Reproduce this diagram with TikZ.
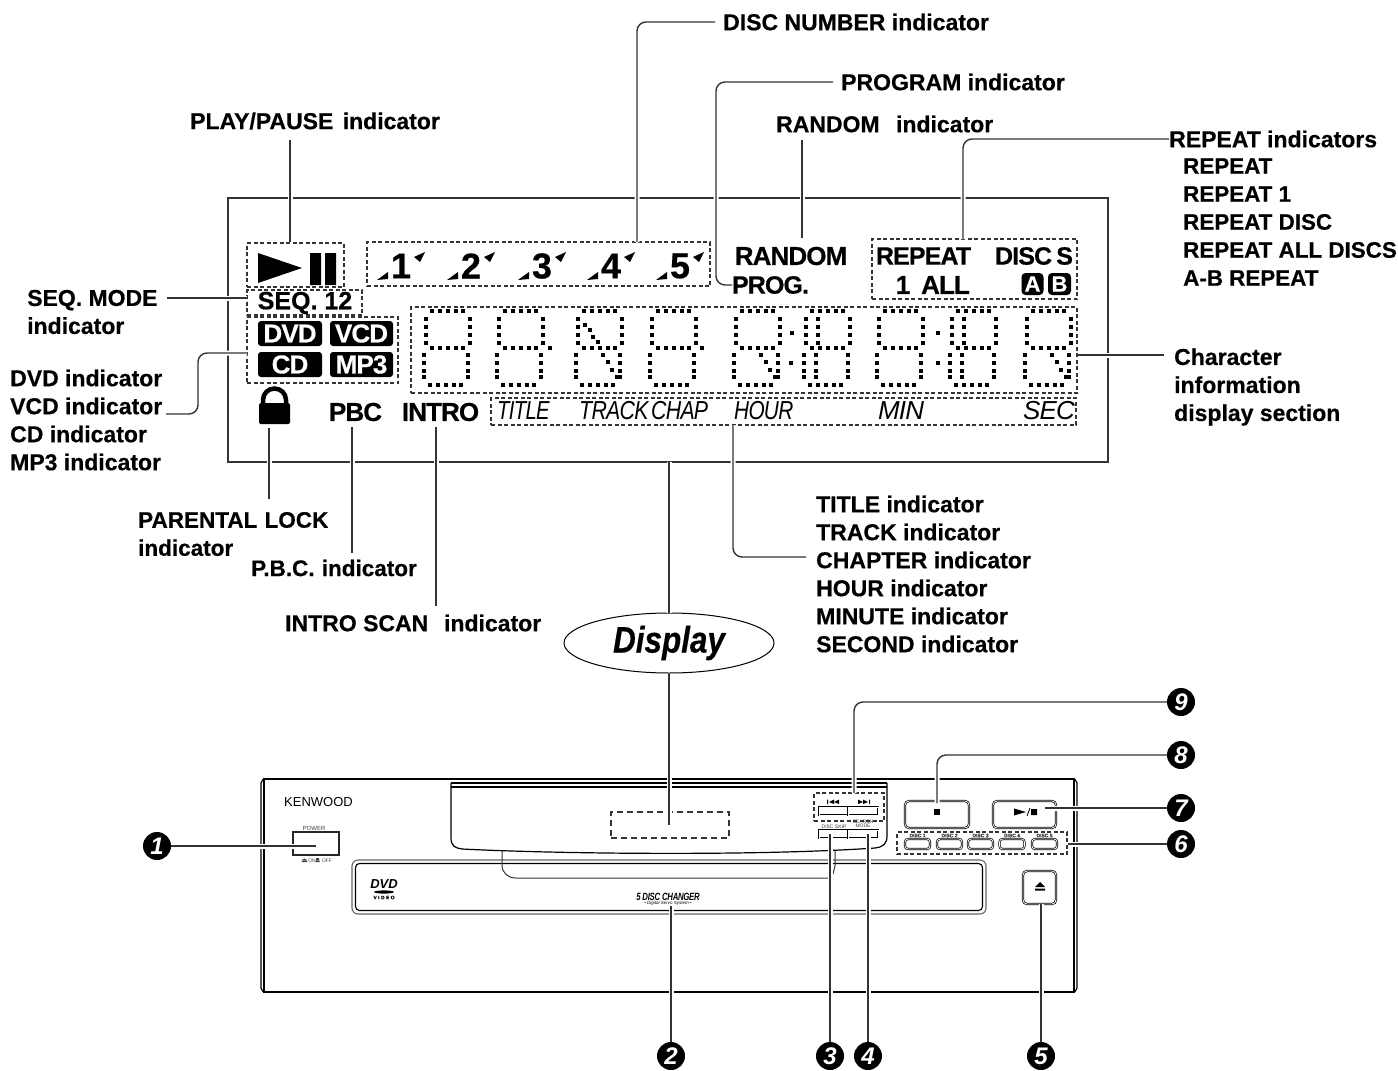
\documentclass[tikz,border=0pt]{standalone}
\usepackage{fontspec}
\setmainfont[BoldFeatures={FakeBold=0.5}]{Liberation Sans}
\newfontfamily\lcdfont[LetterSpace=-3.5,BoldFeatures={FakeBold=0.5}]{Liberation Sans}
\newfontfamily\dispfont[FakeStretch=0.85,BoldItalicFeatures={FakeBold=0.5}]{Liberation Sans}
\usetikzlibrary{shapes.geometric,fit}
\definecolor{inkgray}{gray}{0.2}
\newcommand\labfont{\fontsize{23}{28}\selectfont\bfseries}
\newcommand\lcdsize[1]{\fontsize{#1}{#1}\selectfont\lcdfont\bfseries}
\newcommand\tinysize[1]{\fontsize{#1}{#1}\selectfont}
% one square dot of the segment display
\newcommand\dotat[2]{\fill ({#1-1.7},{#2-1.7}) rectangle +(3.4,3.4);}
% all the outer segments of one character
\newcommand\dotchar[1]{%
  \foreach \dx in {0,8,16,24,31} {\dotat{#1+\dx}{311}\dotat{#1+\dx}{348}\dotat{#1+\dx-2}{385}}
  \foreach \dy in {8,16,24,32} {\dotat{#1-6}{311+\dy}\dotat{#1+38}{311+\dy}}
  \foreach \dy in {44,52,60,66} {\dotat{#1-8}{311+\dy}\dotat{#1+36}{311+\dy}}
}
\newcommand\dotdiagup[1]{\foreach \dx/\dy in {1/14,6/19,9/26,14/31} {\dotat{#1+\dx}{311+\dy}}}
\newcommand\dotdiaglow[1]{\foreach \dx/\dy in {19/44,24/51,28/59,33/66} {\dotat{#1+\dx}{311+\dy}}}
\newcommand\dotinner[1]{%
  \foreach \dy in {8,16,24,32} {\dotat{#1+6}{311+\dy}}
  \foreach \dy in {44,52,60,66} {\dotat{#1+4}{311+\dy}}
}
\begin{document}
\begin{tikzpicture}[x=1pt,y=-1pt,
  lab/.style={anchor=west, align=left, inner sep=0pt, font=\labfont},
  lcd/.style={inner sep=0pt, anchor=center, font=\lcdsize{26}},
  lcdit/.style={inner sep=0pt, anchor=west, font=\fontsize{26}{26}\selectfont\lcdfont\itshape},
  dashbox/.style={draw=inkgray, dashed, dash pattern=on 4pt off 2.5pt, line width=1.1pt, inner sep=0pt},
  leader/.style={draw=inkgray, line width=1.4pt, rounded corners=9pt,
    preaction={draw=white, line width=5pt}},
  chip/.style={fill=black, text=white, rounded corners=3pt, inner sep=0pt, font=\lcdsize{26}},
  keynum/.style={circle, fill=black, text=white, inner sep=0pt, minimum size=28pt,
    font=\fontsize{24}{24}\selectfont\bfseries\itshape},
  btn/.style={draw=black, double=white, double distance=0.8pt, line width=0.7pt, inner sep=0pt},
  bigbtn/.style={btn, rounded corners=4pt},
  mini/.style={inner sep=0pt, text=black!75},
]
\useasboundingbox (0,0) rectangle (1398,1071);

% ---- Display frame ----
\draw[inkgray, line width=1.4pt] (228,198) rectangle (1108,462);

% ---- Player front ----
\draw[line width=1.5pt] (264,779) rectangle (1074,992);
\draw[line width=1.2pt, rounded corners=2pt] (264,779) -- (261,781) -- (261,990) -- (264,992);
\draw[line width=1.2pt, rounded corners=2pt] (1074,779) -- (1077,781) -- (1077,990) -- (1074,992);
% upper panel
\draw[line width=1.5pt] (451,783) -- (887,783);
\draw[line width=1.2pt] (451,787) -- (887,787);
\draw[line width=1.2pt] (451,783) -- (451,838)
  .. controls (451,846) and (455,848) .. (462,849)
  .. controls (560,854) and (760,856) .. (875,848)
  .. controls (883,847) and (887,844) .. (887,836) -- (887,783);
% tray
\draw[draw=black!60, line width=1.1pt, rounded corners=6pt] (352,860) rectangle (986,914);
\draw[line width=1.1pt, rounded corners=4pt] (355.5,863.5) rectangle (982.5,910.5);
% tab under the panel
\draw[inkgray, line width=1pt] (502,851) -- (502,865)
  .. controls (502,873) and (508,878) .. (516,878) -- (828,878);
\draw[inkgray, line width=1pt] (835,851) -- (835,866) -- (833,874);

\node[inner sep=0pt, font=\tinysize{13}] (brand) at (318.5,802) {KENWOOD};
\node[mini, font=\tinysize{6}] (powertxt) at (314,828) {POWER};
\node[draw=black!85, line width=2pt, inner sep=0pt, fit={(293,832) (339,855)}] (powerbox) {};
\node[mini, font=\tinysize{5}] (ontxt) at (312,860.5) {ON};
\node[mini, font=\tinysize{5}] (offtxt) at (327,860.5) {OFF};
\fill[black!75] (302,860) -- (304.5,858.5) -- (307,860) -- cycle (301.8,860.6) rectangle (307.2,862);
\fill[black!75] (316,858) rectangle (319,860) (315.5,860.6) rectangle (319.5,862);
\node[inner sep=0pt, font=\fontsize{13}{13}\selectfont\bfseries\itshape] (dvdlogo) at (384,884) {DVD};
\fill (384,892) ellipse (10 and 1.6);
\node[inner sep=0pt, font=\tinysize{5}\bfseries] (dvdvideo) at (384,897.5) {V I D E O};
\node[inner sep=0pt, font=\fontsize{10.5}{10.5}\selectfont\lcdfont\bfseries\itshape] (changer) at (668,897) {\scalebox{0.74}[1]{5 DISC CHANGER}};
\node[inner sep=0pt, font=\tinysize{4.5}\itshape] (servo) at (668,903.5) {• Digital Servo System •};

% skip buttons
\node[btn, fit={(819,807) (848,815)}] (skipback) {};
\node[btn, fit={(848,807) (878,815)}] (skipnext) {};
\fill (827,799.5) rectangle (828,804) (829,802) -- (834,799.5) -- (834,804) -- cycle (834,802) -- (839,799.5) -- (839,804) -- cycle;
\fill (858,799.5) -- (863,802) -- (858,804) -- cycle (863,799.5) -- (868,802) -- (863,804) -- cycle (869,799.5) rectangle (870,804);
\node[btn, fit={(819,830) (848,838)}] (discskip) {};
\node[btn, fit={(848,830) (878,838)}] (searchmode) {};
\node[mini, font=\tinysize{5}] (skiptxt) at (834,826.5) {DISC SKIP};
\node[mini, align=center, font=\tinysize{5}] (modetxt) at (863,824) {SEARCH\\[-1pt]MODE};
% stop, play and eject
\node[bigbtn, fit={(905,801) (969,828)}] (stopbtn) {};
\fill (934,809) rectangle (940,815);
\node[bigbtn, fit={(993,801) (1056,828)}] (playbtn) {};
\fill (1014,808.5) -- (1026,812) -- (1014,815.5) -- cycle (1031,809) rectangle (1037,815);
\draw[line width=0.8pt] (1027,816) -- (1030,808);
\node[bigbtn, fit={(1023,871) (1056,904)}] (ejectbtn) {};
\fill (1035,887) -- (1040,882) -- (1045,887) -- cycle (1035,888.5) rectangle (1045,890.5);
% disc buttons
\foreach \n/\x in {1/917.5,2/949.5,3/980.5,4/1012,5/1044.5} {
  \node[btn, rounded corners=3pt, minimum width=25pt, minimum height=10pt] (disc\n) at (\x,844) {};
  \node[mini, font=\tinysize{5}\bfseries] (disctxt\n) at (\x,835.5) {DISC \n};
}

% ---- Labels ----
\node[lab] (dischead) at (723,22) {DISC NUMBER indicator};
\node[lab] (proghead) at (841,82) {PROGRAM indicator};
\node[lab] (randhead) at (776,124) {RANDOM\ \kern10pt indicator};
\node[lab] (playhead) at (190,121) {PLAY/PAUSE\ \kern3pt indicator};
\node[lab] (rephead) at (1169,139) {REPEAT indicators};
\node[lab, font=\fontsize{22.4}{28}\selectfont\bfseries] (replist) at (1183,222) {REPEAT\\REPEAT 1\\REPEAT DISC\\REPEAT ALL DISCS\\A-B REPEAT};
\node[lab] (seqhead) at (27,312) {SEQ. MODE\\indicator};
\node[lab] (dvdlist) at (10,420) {DVD indicator\\VCD indicator\\CD indicator\\MP3 indicator};
\node[lab] (charhead) at (1174,387) {Character\\information\\display section};
\node[lab, font=\fontsize{22.5}{28}\selectfont\bfseries] (lockhead) at (138,534) {PARENTAL\ \kern1pt LOCK\\indicator};
\node[lab, font=\fontsize{22.5}{28}\selectfont\bfseries] (pbchead) at (251,568) {P.B.C.\ \kern1pt indicator};
\node[lab] (introhead) at (285,623) {INTRO SCAN\ \ \kern3pt indicator};
\node[lab] (timelist) at (816,574) {TITLE indicator\\TRACK indicator\\CHAPTER indicator\\HOUR indicator\\MINUTE indicator\\SECOND indicator};
\node[draw=black, line width=1pt, ellipse, fill=white, minimum width=210pt, minimum height=60pt, inner sep=0pt,
  font=\fontsize{37}{37}\selectfont\dispfont\bfseries\itshape] (disphead) at (669,643) {\raisebox{-3pt}{Display}};

% ---- Free ends of the connectors ----
\coordinate (playend) at (290,140);
\coordinate (randend) at (802,140);
\coordinate (lockend) at (269,499);
\coordinate (pbcend) at (352,553);
\coordinate (introend) at (436,606);

% ---- Dashed groups ----
\node[dashbox, fit={(247,243) (344,287)}] (playbox) {};
\node[dashbox, fit={(367,242) (710,286)}] (numbox) {};
\node[dashbox, fit={(247,290) (362,315)}] (seqbox) {};
\node[dashbox, fit={(247,317) (398,383)}] (typebox) {};
\node[dashbox, fit={(411,307) (1077,393)}] (segbox) {};
\node[dashbox, fit={(491,398) (1076,425)}] (unitbox) {};
\node[dashbox, fit={(872,239) (1077,299)}] (repbox) {};
\node[dashbox, dash pattern=on 6pt off 4pt, fit={(611,812) (729,838)}] (panelbox) {};
\node[dashbox, fit={(814,793) (884,821)}] (skipbox) {};
\node[dashbox, fit={(897,832) (1067,854)}] (discbox) {};

% ---- Connectors ----
\draw[leader] (playend) -- (playend |- playbox.north);
\draw[leader] (dischead.west) ++(-8,0) -- (637,22) -- (637,242);
\draw[leader] (proghead.west) ++(-8,0) -- (716,82) -- (716,285) -- (732,285);
\draw[leader] (randend) -- (randend |- repbox.north);
\draw[leader] (rephead.west) -- (963,139) -- (963,239);
\draw[leader] (seqhead.west |- 167,298) ++(140,0) -- (247,298);
\draw[leader] (166,414) -- (198,414) -- (198,353) -- (247,353);
\draw[leader] (segbox.east |- 0,355) -- (1164,355);
\draw[leader] (269,428) -- (lockend);
\draw[leader] (352,427) -- (pbcend);
\draw[leader] (436,427) -- (introend);
\draw[leader] (733,425) -- (733,557) -- (806,557);
\draw[leader] (disphead.north |- 0,462) -- (disphead.north);
\draw[leader] (disphead.south) -- (disphead.south |- panelbox.center);

% ---- Keys ----
\node[keynum] (key1) at (157,846) {1};
\node[keynum] (key2) at (671,1056) {2};
\node[keynum] (key3) at (830,1056) {3};
\node[keynum] (key4) at (868,1056) {4};
\node[keynum] (key5) at (1041,1056) {5};
\node[keynum] (key6) at (1181,844) {6};
\node[keynum] (key7) at (1181,808) {7};
\node[keynum] (key8) at (1181,755) {8};
\node[keynum] (key9) at (1181,702) {9};
\draw[leader] (key1.east) -- (key1 -| powerbox.center);
\draw[leader] (key2.north) -- (key2 |- servo.south);
\draw[leader] (key3.north) -- (key3 |- discskip.center);
\draw[leader] (key4.north) -- (key4 |- searchmode.center);
\draw[leader] (key5.north) -- (key5 |- ejectbtn.south);
\draw[leader] (key6.west) -- (discbox.east |- key6);
\draw[leader] (key7.west) -- (1045,808);
\draw[leader] (key8.west) -- (937,755) -- (937,803);
\draw[leader] (key9.west) -- (854,702) -- (854,793);

% ---- Indicators inside the display ----
% play and pause
\fill (258,253) -- (302,268) -- (258,283) -- cycle;
\fill (310,253) rectangle (321,285) (325,253) rectangle (336,285);
% disc numbers
\foreach \n/\x in {1/401,2/471,3/542,4/611,5/680} {
  \node[inner sep=0pt, font=\lcdsize{36}] (num\n) at (\x,266) {\n};
  \fill (\x-24,280) -- (\x-13,272) -- (\x-13,279) -- cycle;
  \fill (\x+24,252) -- (\x+13,257) -- (\x+19,262) -- cycle;
}
\node[lcd, font=\fontsize{25}{25}\selectfont\bfseries] (seqtxt) at (305,303) {SEQ. 12};
\node[chip, minimum width=64pt, minimum height=25pt] (dvdchip) at (290,333.5) {DVD};
\node[chip, minimum width=63pt, minimum height=25pt] (vcdchip) at (361.5,333.5) {VCD};
\node[chip, minimum width=64pt, minimum height=25pt] (cdchip) at (290,364.5) {CD};
\node[chip, minimum width=63pt, minimum height=25pt] (mpchip) at (361.5,364.5) {MP3};
\node[lcd] (randtxt) at (791,256) {RANDOM};
\node[lcd, font=\lcdsize{25}] (progtxt) at (770.5,285) {PROG.};
\node[lcd, font=\lcdsize{25}] (reptxt) at (923.5,256) {REPEAT};
\node[lcd, font=\lcdsize{25}] (disctxt) at (1034,256) {DISC\,S};
\node[lcd] (onetxt) at (903,285) {1};
\node[lcd] (alltxt) at (945.5,285) {ALL};
\node[chip, rounded corners=4pt, minimum width=22pt, minimum height=22pt, font=\lcdsize{22}] (achip) at (1032.5,284) {A};
\node[chip, rounded corners=4pt, minimum width=23pt, minimum height=22pt, font=\lcdsize{22}] (bchip) at (1059.5,284) {B};
% parental lock
\fill[rounded corners=1.5pt] (259,403) rectangle (290,424);
\draw[line width=4.5pt] (263,405) -- (263,400) arc (180:360:11.5) -- (286,405);
\node[lcd] (pbctxt) at (355.5,412) {PBC};
\node[lcd] (introtxt) at (440.5,412) {INTRO};
\node[lcdit] (titletxt) at (497,411) {\scalebox{0.78}[1]{TITLE}};
\node[lcdit] (tracktxt) at (579,411) {\scalebox{0.82}[1]{TRACK}};
\node[lcdit] (chaptxt) at (651,411) {\scalebox{0.82}[1]{CHAP}};
\node[lcdit] (hourtxt) at (734,411) {\scalebox{0.8}[1]{HOUR}};
\node[lcdit] (mintxt) at (878,411) {MIN};
\node[lcdit] (sectxt) at (1023,411) {SEC};
% segment characters
\foreach \x in {432,505,584,658,742,812,885,958,1033} {\dotchar{\x}}
\dotat{550}{348}
\dotat{702}{348}
\dotdiagup{584}
\foreach \x in {584,742,1033} {\dotdiaglow{\x}}
\foreach \x in {812,958} {\dotinner{\x}}
\foreach \x/\y in {792/333,791/363,938/333,938/363} {\dotat{\x}{\y}}
\end{tikzpicture}
\end{document}
